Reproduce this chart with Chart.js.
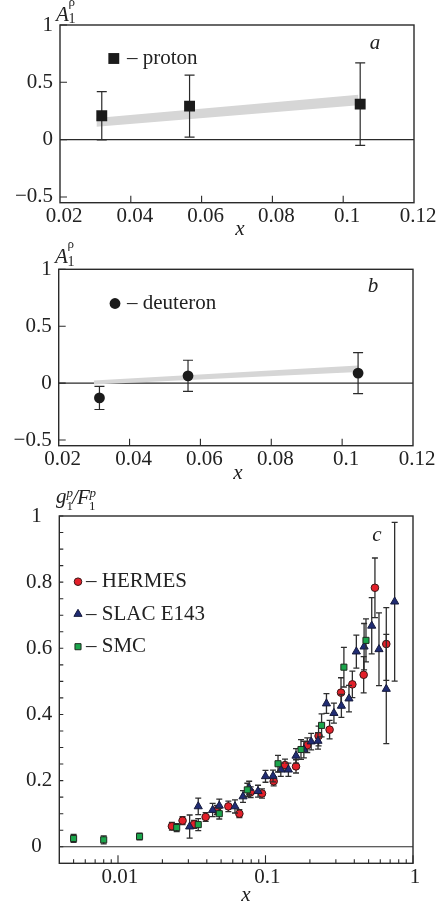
<!DOCTYPE html>
<html lang="en">
<head>
<meta charset="UTF-8">
<title>A1 rho asymmetry and g1/F1</title>
<style>
  body { margin: 0; background: #fff; }
  #wrap { position: relative; width: 439px; height: 906px; overflow: hidden; }
  canvas { position: absolute; left: 0; }
</style>
</head>
<body>
<div id="wrap">
  <canvas id="chartProton" width="439" height="245" style="top:0"></canvas>
  <canvas id="chartDeuteron" width="439" height="250" style="top:236px"></canvas>
  <canvas id="chartG1" width="439" height="426" style="top:480px"></canvas>
</div>

<script src="https://cdn.jsdelivr.net/npm/chart.js"></script>
<script>
// panel a: proton
const protonX = [0.0318, 0.0566, 0.1048];
const protonY = [0.208, 0.292, 0.31];
const protonErr = [0.21, 0.27, 0.36];
const protonBandX = [0.0303, 0.1043];
const protonBandLo = [0.112, 0.300];
const protonBandHi = [0.188, 0.392];

// panel b: deuteron
const deuteronX = [0.0315, 0.0565, 0.1045];
const deuteronY = [-0.13, 0.064, 0.088];
const deuteronErr = [0.102, 0.137, 0.18];
const deuteronBandX = [0.0299, 0.1045];
const deuteronBandLo = [-0.012, 0.098];
const deuteronBandHi = [0.022, 0.154];

const linTicksX = [0.02, 0.04, 0.06, 0.08, 0.1, 0.12];
const linTicksY = [-0.5, 0, 0.5, 1];

// panel c: g1/F1 for the proton
const hermesX = [0.0232, 0.0274, 0.0328, 0.0393, 0.0469, 0.056, 0.0665, 0.0793, 0.0947, 0.1136,
                 0.1356, 0.161, 0.192, 0.229, 0.272, 0.325, 0.388, 0.463, 0.552, 0.659];
const hermesY = [0.062, 0.079, 0.068, 0.090, 0.111, 0.122, 0.100, 0.165, 0.161, 0.198,
                 0.247, 0.243, 0.307, 0.335, 0.354, 0.466, 0.491, 0.520, 0.783, 0.613];
const hermesErr = [0.012, 0.012, 0.012, 0.013, 0.014, 0.016, 0.012, 0.016, 0.014, 0.014,
                   0.018, 0.020, 0.022, 0.030, 0.028, 0.045, 0.040, 0.055, 0.090, 0.110];

const slacX = [0.0306, 0.035, 0.0438, 0.0486, 0.0621, 0.0704, 0.0775, 0.089, 0.100, 0.1125,
               0.127, 0.143, 0.161, 0.182, 0.204, 0.227, 0.259, 0.291, 0.327, 0.368,
               0.413, 0.466, 0.525, 0.588, 0.659, 0.751];
const slacY = [0.061, 0.122, 0.111, 0.124, 0.122, 0.152, 0.178, 0.168, 0.213, 0.214,
               0.233, 0.233, 0.275, 0.294, 0.318, 0.320, 0.433, 0.404, 0.426, 0.448,
               0.590, 0.605, 0.668, 0.597, 0.477, 0.741];
const slacErr = [0.035, 0.025, 0.020, 0.020, 0.020, 0.018, 0.020, 0.018, 0.018, 0.018,
                 0.020, 0.020, 0.022, 0.025, 0.025, 0.025, 0.030, 0.030, 0.035, 0.040,
                 0.050, 0.070, 0.085, 0.110, 0.165, 0.240];

const smcX = [0.005, 0.008, 0.014, 0.025, 0.035, 0.0486, 0.0753, 0.1216, 0.174, 0.240, 0.340, 0.480];
const smcY = [0.025, 0.021, 0.031, 0.058, 0.067, 0.100, 0.172, 0.251, 0.294, 0.367, 0.543, 0.624];
const smcErr = [0.012, 0.012, 0.010, 0.012, 0.018, 0.016, 0.020, 0.025, 0.030, 0.035, 0.060, 0.065];

const logTicksX = [0.01, 0.1, 1];
const g1TicksY = [0, 0.2, 0.4, 0.6, 0.8, 1];

const SERIF = "'Liberation Serif', 'Times New Roman', serif";
const INK = '#2a2a2a';
const TXT = 21;

const pts = (xs, ys) => xs.map((x, i) => ({ x: x, y: ys[i] }));
const font = (size, italic) => (italic ? 'italic ' : '') + size + 'px ' + SERIF;
const minus = v => (v < 0 ? '\u2212' + Math.abs(v) : String(v));

// minor ticks of the log axis: 2..9 in every decade, inside the x range
const logMinor = [];
[0.001, 0.01, 0.1].forEach(d => {
  for (let k = 2; k <= 9; k++) {
    const v = +(k * d).toFixed(4);
    if (v > 0.004) logMinor.push(v);
  }
});
// minor ticks of g1/F1 every 0.05
const g1Minor = [];
for (let k = 0; k <= 20; k++) g1Minor.push(+(k * 0.05).toFixed(2));

function drawMarker(ctx, ds, x, y) {
  const r = ds.pointRadius;
  ctx.save();
  ctx.fillStyle = ds.pointBackgroundColor;
  ctx.strokeStyle = ds.pointBorderColor;
  ctx.lineWidth = ds.pointBorderWidth || 1;
  ctx.beginPath();
  if (ds.pointStyle === 'rect') {
    const s = r * Math.SQRT1_2;
    ctx.rect(x - s, y - s, 2 * s, 2 * s);
  } else if (ds.pointStyle === 'triangle') {
    for (let k = 0; k < 3; k++) {
      const a = k * 2 * Math.PI / 3;
      const px = x + Math.sin(a) * r, py = y - Math.cos(a) * r;
      if (k) ctx.lineTo(px, py); else ctx.moveTo(px, py);
    }
    ctx.closePath();
  } else {
    ctx.arc(x, y, r, 0, 2 * Math.PI);
  }
  ctx.fill();
  if (ds.pointBorderWidth) ctx.stroke();
  ctx.restore();
}

// frame, inner ticks, zero line, error bars, legend and axis titles
function decor(cfg) {
  return {
    id: 'decor',
    beforeDatasetsDraw(chart) {
      const { ctx, chartArea: a, scales: { y } } = chart;
      const y0 = y.getPixelForValue(0);
      ctx.save();
      ctx.strokeStyle = INK;
      ctx.lineWidth = 1.1;
      ctx.beginPath();
      ctx.moveTo(a.left, y0);
      ctx.lineTo(a.right, y0);
      ctx.stroke();
      ctx.restore();
    },
    beforeDatasetDraw(chart, args) {
      const ds = chart.data.datasets[args.index];
      if (!ds.errors) return;
      const { ctx, scales: { x, y } } = chart;
      ctx.save();
      ctx.strokeStyle = ds.errorColor;
      ctx.lineWidth = ds.errorWidth;
      ctx.beginPath();
      ds.data.forEach((p, i) => {
        const px = x.getPixelForValue(p.x);
        const hi = y.getPixelForValue(p.y + ds.errors[i]);
        const lo = y.getPixelForValue(p.y - ds.errors[i]);
        const c = ds.errorCap;
        ctx.moveTo(px, hi); ctx.lineTo(px, lo);
        ctx.moveTo(px - c, hi); ctx.lineTo(px + c, hi);
        ctx.moveTo(px - c, lo); ctx.lineTo(px + c, lo);
      });
      ctx.stroke();
      ctx.restore();
    },
    afterDraw(chart) {
      const { ctx, chartArea: a, scales: { x, y } } = chart;
      ctx.save();
      ctx.strokeStyle = INK;
      ctx.lineWidth = 1.4;
      ctx.strokeRect(a.left, a.top, a.right - a.left, a.bottom - a.top);

      ctx.lineWidth = 1.1;
      ctx.beginPath();
      cfg.yTicks.forEach(v => {
        const py = y.getPixelForValue(v);
        ctx.moveTo(a.left, py); ctx.lineTo(a.left + cfg.yTickLen, py);
      });
      cfg.xTicks.forEach(t => {
        const px = x.getPixelForValue(t[0]);
        ctx.moveTo(px, a.bottom); ctx.lineTo(px, a.bottom - t[1]);
      });
      ctx.stroke();

      ctx.fillStyle = '#222';
      // panel letter
      ctx.font = font(TXT, true);
      ctx.textAlign = 'center';
      ctx.textBaseline = 'middle';
      ctx.fillText(cfg.letter, cfg.letterAt[0], cfg.letterAt[1]);
      // x axis title
      ctx.fillText('x', cfg.xTitleAt[0], cfg.xTitleAt[1]);

      // legend
      ctx.font = font(TXT, false);
      ctx.textAlign = 'left';
      cfg.legend.forEach(item => {
        const ds = chart.data.datasets[item.ds];
        drawMarker(ctx, ds, item.at[0], item.at[1]);
        ctx.fillStyle = '#222';
        ctx.fillText('\u2013 ' + ds.label, cfg.legendTextX, item.at[1]);
      });

      // y axis title with sub- and superscripts
      ctx.textBaseline = 'alphabetic';
      cfg.yTitle.forEach(s => {
        ctx.font = font(s.size, s.italic);
        ctx.fillText(s.t, s.x, s.y);
      });
      ctx.restore();
    }
  };
}

function axisStyle(extra) {
  return Object.assign({
    grid: { display: false, drawTicks: false },
    border: { display: false },
  }, extra);
}

function fixBox(size, key) {
  return s => {
    s[key] = size;
    s.paddingLeft = s.paddingRight = s.paddingTop = s.paddingBottom = 0;
  };
}

function makeAsymmetry(id, h, area, data, err, bandX, bandLo, bandHi, style, cfg) {
  return new Chart(document.getElementById(id), {
    type: 'scatter',
    data: {
      datasets: [
        Object.assign({
          data: pts(data[0], data[1]),
          errors: err,
          errorColor: '#2a2a2a', errorWidth: 1.2, errorCap: 5,
          pointBackgroundColor: '#1b1b1b', pointBorderColor: '#1b1b1b', pointBorderWidth: 0,
          backgroundColor: '#1b1b1b', borderColor: '#1b1b1b',
          order: 0
        }, style),
        { type: 'line', label: 'band low', data: pts(bandX, bandLo), pointRadius: 0,
          borderWidth: 0, borderColor: 'rgba(0,0,0,0)', fill: false, order: 2 },
        { type: 'line', label: 'band high', data: pts(bandX, bandHi), pointRadius: 0,
          borderWidth: 0, borderColor: 'rgba(0,0,0,0)', fill: '-1',
          backgroundColor: '#d6d6d6', order: 2 }
      ]
    },
    options: {
      responsive: false,
      animation: false,
      devicePixelRatio: 1,
      layout: { padding: { left: 0, top: area.top, right: 439 - area.right, bottom: 0 } },
      plugins: { legend: { display: false }, tooltip: { enabled: false } },
      scales: {
        x: axisStyle({
          type: 'linear', min: 0.02, max: 0.12,
          afterBuildTicks: s => { s.ticks = linTicksX.map(v => ({ value: v })); },
          afterFit: fixBox(h - area.bottom, 'height'),
          ticks: { font: { family: SERIF, size: TXT }, color: '#222', padding: 1.5, labelOffset: 4,
                   maxRotation: 0, autoSkip: false, callback: v => String(+v.toFixed(2)) }
        }),
        y: axisStyle({
          type: 'linear', min: -0.55, max: 1,
          afterBuildTicks: s => { s.ticks = linTicksY.map(v => ({ value: v })); },
          afterFit: fixBox(area.left, 'width'),
          ticks: { font: { family: SERIF, size: TXT }, color: '#222', padding: 7, callback: minus }
        })
      }
    },
    plugins: [decor(cfg)]
  });
}

const linXTicks = [0.04, 0.06, 0.08, 0.1].map(v => [v, 7]);

makeAsymmetry('chartProton', 245, { left: 60, right: 414, top: 25, bottom: 202.7 },
  [protonX, protonY], protonErr, protonBandX, protonBandLo, protonBandHi,
  { label: 'proton', pointStyle: 'rect', pointRadius: 7.7 },
  {
    yTicks: linTicksY, yTickLen: 7, xTicks: linXTicks,
    letter: 'a', letterAt: [375, 43], xTitleAt: [240, 229],
    legend: [{ ds: 0, at: [113.8, 58.5] }], legendTextX: 127,
    yTitle: [
      { t: 'A', size: 21, italic: true, x: 56, y: 21 },
      { t: '1', size: 14, x: 68.5, y: 23 },
      { t: '\u03c1', size: 13, x: 68.5, y: 6 }
    ]
  });

makeAsymmetry('chartDeuteron', 250, { left: 58.7, right: 413, top: 33.3, bottom: 209.7 },
  [deuteronX, deuteronY], deuteronErr, deuteronBandX, deuteronBandLo, deuteronBandHi,
  { label: 'deuteron', pointStyle: 'circle', pointRadius: 5.4 },
  {
    yTicks: linTicksY, yTickLen: 7, xTicks: linXTicks,
    letter: 'b', letterAt: [373, 50], xTitleAt: [238, 237],
    legend: [{ ds: 0, at: [115, 67.5] }], legendTextX: 127,
    yTitle: [
      { t: 'A', size: 21, italic: true, x: 55, y: 27 },
      { t: '1', size: 14, x: 67.5, y: 30 },
      { t: '\u03c1', size: 13, x: 67.5, y: 12 }
    ]
  });

// panel c
const g1Area = { left: 59.3, right: 413, top: 36, bottom: 383.3 };
const g1H = 426;
new Chart(document.getElementById('chartG1'), {
  type: 'scatter',
  data: {
    datasets: [
      { label: 'SMC', data: pts(smcX, smcY), errors: smcErr,
        errorColor: '#2e2e2e', errorWidth: 1.3, errorCap: 3,
        pointStyle: 'rect', pointRadius: 4.3,
        pointBackgroundColor: '#1ba64c', pointBorderColor: '#1f2a1f', pointBorderWidth: 1,
        backgroundColor: '#1ba64c', borderColor: '#1f2a1f' },
      { label: 'SLAC E143', data: pts(slacX, slacY), errors: slacErr,
        errorColor: '#2e2e2e', errorWidth: 1.3, errorCap: 3,
        pointStyle: 'triangle', pointRadius: 4.7,
        pointBackgroundColor: '#202c74', pointBorderColor: '#161a3c', pointBorderWidth: 1,
        backgroundColor: '#202c74', borderColor: '#161a3c' },
      { label: 'HERMES', data: pts(hermesX, hermesY), errors: hermesErr,
        errorColor: '#2e2e2e', errorWidth: 1.3, errorCap: 3,
        pointStyle: 'circle', pointRadius: 3.8,
        pointBackgroundColor: '#e3202a', pointBorderColor: '#3a1616', pointBorderWidth: 1,
        backgroundColor: '#e3202a', borderColor: '#3a1616' }
    ]
  },
  options: {
    responsive: false,
    animation: false,
    devicePixelRatio: 1,
    layout: { padding: { left: 0, top: g1Area.top, right: 439 - g1Area.right, bottom: 0 } },
    plugins: { legend: { display: false }, tooltip: { enabled: false } },
    scales: {
      x: axisStyle({
        type: 'logarithmic', min: 0.004, max: 1,
        afterBuildTicks: s => { s.ticks = logTicksX.map(v => ({ value: v })); },
        afterFit: fixBox(g1H - g1Area.bottom, 'height'),
        ticks: { font: { family: SERIF, size: TXT }, color: '#222', padding: 2, labelOffset: 2,
                 maxRotation: 0, autoSkip: false, callback: v => String(v) }
      }),
      y: axisStyle({
        type: 'linear', min: -0.05, max: 1,
        afterBuildTicks: s => { s.ticks = g1TicksY.map(v => ({ value: v })); },
        afterFit: fixBox(g1Area.left, 'width'),
        ticks: { font: { family: SERIF, size: TXT }, color: '#222', padding: 7,
                 callback: v => Number.isInteger(v) ? v + '\u2002' : v.toFixed(1) }
      })
    }
  },
  plugins: [decor({
    yTicks: g1Minor, yTickLen: 4,
    xTicks: logTicksX.map(v => [v, 8]).concat(logMinor.map(v => [v, 4])),
    letter: 'c', letterAt: [377, 55], xTitleAt: [246, 415],
    legend: [{ ds: 2, at: [78, 101.7] }, { ds: 1, at: [78, 134] }, { ds: 0, at: [78, 166.7] }],
    legendTextX: 86,
    yTitle: [
      { t: 'g', size: 21, italic: true, x: 56, y: 23 },
      { t: '1', size: 13, x: 66.5, y: 30 },
      { t: 'p', size: 13, italic: true, x: 66.5, y: 17 },
      { t: '/', size: 21, italic: true, x: 72, y: 24 },
      { t: 'F', size: 21, italic: true, x: 77, y: 24 },
      { t: '1', size: 13, x: 89, y: 30 },
      { t: 'p', size: 13, italic: true, x: 89.5, y: 17 }
    ]
  })]
});
</script>
</body>
</html>
